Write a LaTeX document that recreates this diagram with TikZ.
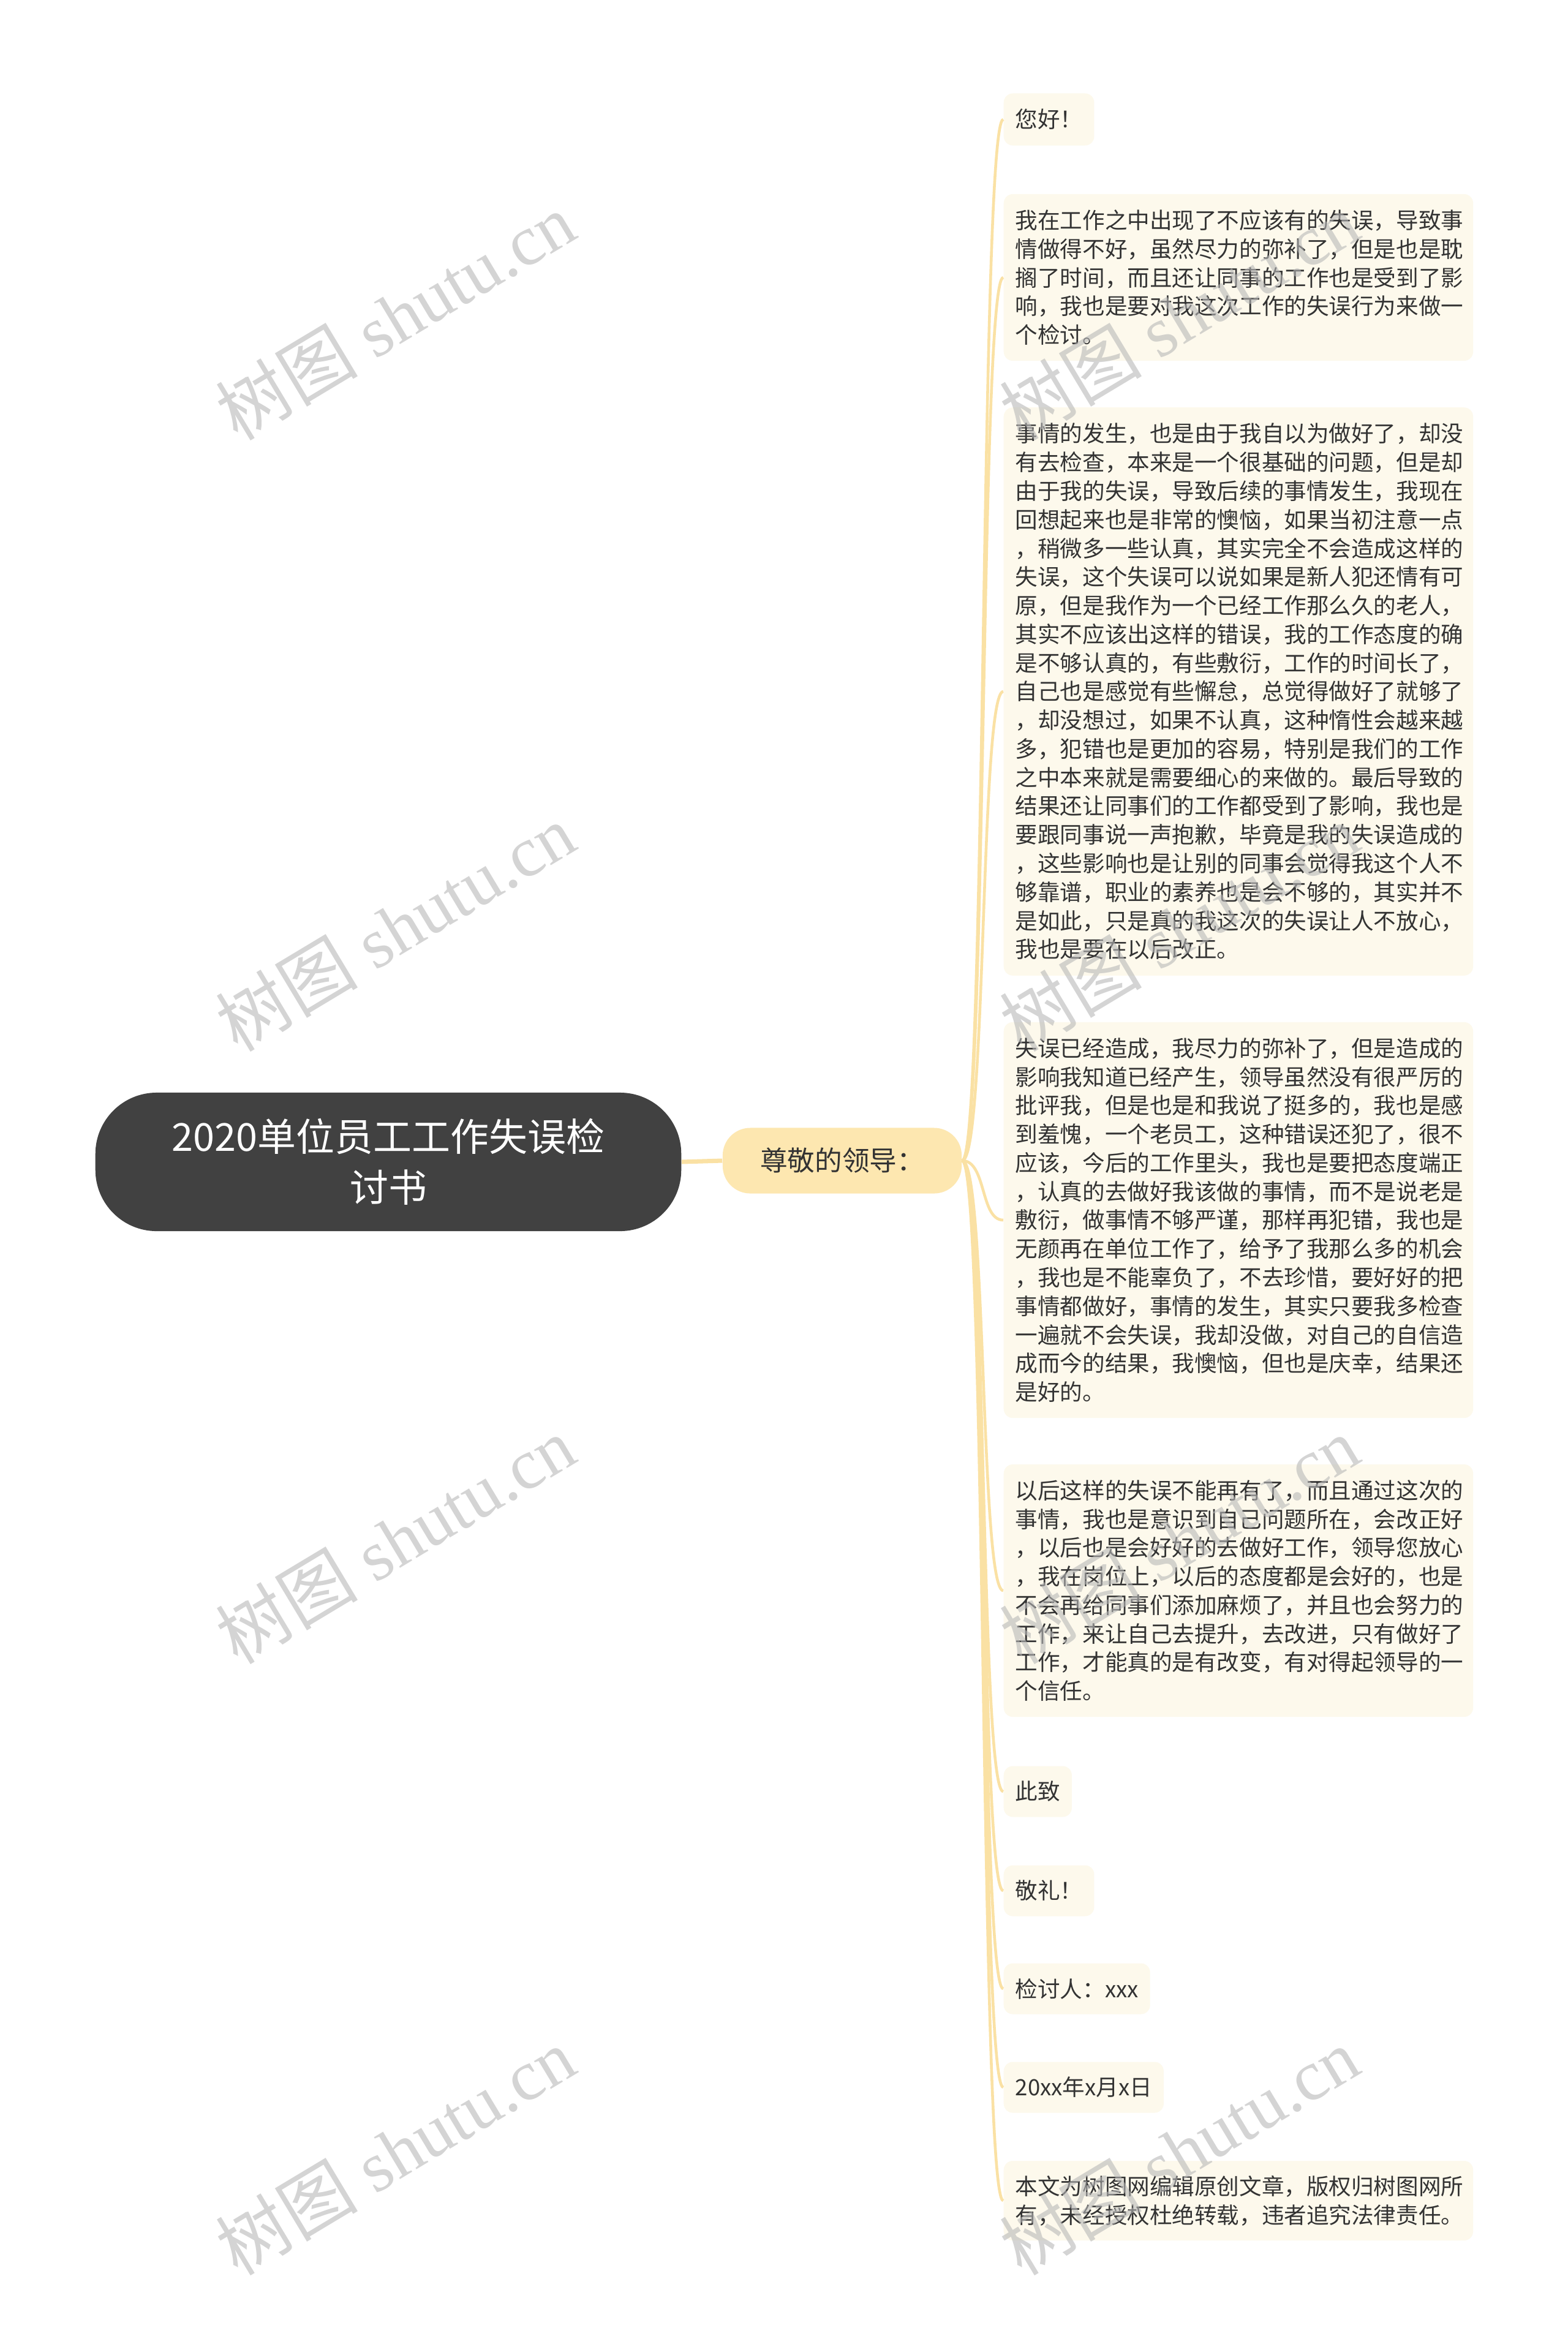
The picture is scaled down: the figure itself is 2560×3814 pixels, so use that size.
\documentclass[tikz,border=0pt]{standalone}
\usepackage{fontspec}
\setmainfont{Noto Sans CJK SC}
\newfontfamily\markfont{Liberation Serif}
\newfontfamily\markcjk{Noto Sans CJK SC}

\definecolor{rootfill}{HTML}{414141}
\definecolor{branchfill}{HTML}{FDE7B0}
\definecolor{leaffill}{HTML}{FDF9EC}
\definecolor{linkcolor}{HTML}{FAE1A4}
\definecolor{inkcolor}{HTML}{333333}
\definecolor{markgray}{HTML}{B8B8B8}

\tikzset{
  rootbox/.style={fill=rootfill, text=white, rounded corners=1.0cm, inner sep=0pt,
    minimum width=9.56cm, minimum height=2.26cm, align=center,
    font=\fontsize{17.9pt}{23.6pt}\selectfont},
  branchbox/.style={fill=branchfill, text=inkcolor, rounded corners=0.45cm, inner sep=0pt,
    minimum width=3.9cm, minimum height=1.07cm,
    font=\fontsize{12.7pt}{15pt}\selectfont},
  leafbox/.style={fill=leaffill, text=inkcolor, rounded corners=0.15cm, anchor=west,
    align=left, inner xsep=0.19cm, inner ysep=0pt,
    font=\fontsize{10.4pt}{13.3pt}\selectfont},
  widebox/.style={leafbox, text width=7.28cm},
  trunk/.style={draw=linkcolor, line width=2pt},
  twig/.style={draw=linkcolor, line width=1.3pt},
  watermark/.style={text=markgray, opacity=0.6, rotate=31,
    font=\fontsize{33pt}{33pt}\markfont}
}

\begin{document}
\begin{tikzpicture}[x=0.01cm, y=-0.01cm]
                        \path [use as bounding box, fill=white] (0,0) rectangle (2560,3814);%

                        % Drawing root node and first branch
                        \node [rootbox] (root) at (634,1897) {2020单位员工工作失误检\\讨书};%
                        \node [branchbox] (lead) at (1375,1895) {尊敬的领导：};%
                        \draw [trunk] (root.east) -- (lead.west);%

                        % Drawing leaves of the letter
                        \node [leafbox, minimum height=0.85cm] (hello) at (1638,195) {您好！};%
                        \node [widebox, minimum height=2.72cm] (fault) at (1638,453) {我在工作之中出现了不应该有的失误，导致事\\情做得不好，虽然尽力的弥补了，但是也是耽\\搁了时间，而且还让同事的工作也是受到了影\\响，我也是要对我这次工作的失误行为来做一\\个检讨。};%
                        \node [widebox, minimum height=9.27cm] (cause) at (1638,1129) {事情的发生，也是由于我自以为做好了，却没\\有去检查，本来是一个很基础的问题，但是却\\由于我的失误，导致后续的事情发生，我现在\\回想起来也是非常的懊恼，如果当初注意一点\\，稍微多一些认真，其实完全不会造成这样的\\失误，这个失误可以说如果是新人犯还情有可\\原，但是我作为一个已经工作那么久的老人，\\其实不应该出这样的错误，我的工作态度的确\\是不够认真的，有些敷衍，工作的时间长了，\\自己也是感觉有些懈怠，总觉得做好了就够了\\，却没想过，如果不认真，这种惰性会越来越\\多，犯错也是更加的容易，特别是我们的工作\\之中本来就是需要细心的来做的。最后导致的\\结果还让同事们的工作都受到了影响，我也是\\要跟同事说一声抱歉，毕竟是我的失误造成的\\，这些影响也是让别的同事会觉得我这个人不\\够靠谱，职业的素养也是会不够的，其实并不\\是如此，只是真的我这次的失误让人不放心，\\我也是要在以后改正。};%
                        \node [widebox, minimum height=6.46cm] (shame) at (1638,1992) {失误已经造成，我尽力的弥补了，但是造成的\\影响我知道已经产生，领导虽然没有很严厉的\\批评我，但是也是和我说了挺多的，我也是感\\到羞愧，一个老员工，这种错误还犯了，很不\\应该，今后的工作里头，我也是要把态度端正\\，认真的去做好我该做的事情，而不是说老是\\敷衍，做事情不够严谨，那样再犯错，我也是\\无颜再在单位工作了，给予了我那么多的机会\\，我也是不能辜负了，不去珍惜，要好好的把\\事情都做好，事情的发生，其实只要我多检查\\一遍就不会失误，我却没做，对自己的自信造\\成而今的结果，我懊恼，但也是庆幸，结果还\\是好的。};%
                        \node [widebox, minimum height=4.12cm] (promise) at (1638,2597) {以后这样的失误不能再有了，而且通过这次的\\事情，我也是意识到自己问题所在，会改正好\\，以后也是会好好的去做好工作，领导您放心\\，我在岗位上，以后的态度都是会好的，也是\\不会再给同事们添加麻烦了，并且也会努力的\\工作，来让自己去提升，去改进，只有做好了\\工作，才能真的是有改变，有对得起领导的一\\个信任。};%
                        \node [leafbox, minimum height=0.83cm] (close) at (1638,2925) {此致};%
                        \node [leafbox, minimum height=0.83cm] (salute) at (1638,3087) {敬礼！};%
                        \node [leafbox, minimum height=0.83cm] (signer) at (1638,3247) {检讨人：xxx};%
                        \node [leafbox, minimum height=0.83cm] (date) at (1638,3408) {20xx年x月x日};%
                        \node [widebox, minimum height=1.30cm] (notice) at (1638,3593) {本文为树图网编辑原创文章，版权归树图网所\\有，未经授权杜绝转载，违者追究法律责任。};%

                        % Drawing links from branch to leaves
                        \foreach \leaf in {hello,fault,cause,shame,promise,close,salute,signer,date,notice}
                          \draw [twig] (lead.east) .. controls +(40,0) and +(-38,0) .. (\leaf.west);%

                        % Marking the page with watermarks
                        \foreach \ypos [count=\i] in {516,1514,2514,3512} {
                          \node [watermark] (markl\i) at (645,\ypos) {{\markcjk 树图} shutu.cn};%
                          \node [watermark] (markr\i) at (1925,\ypos) {{\markcjk 树图} shutu.cn};%
                        }
\end{tikzpicture}
\end{document}
